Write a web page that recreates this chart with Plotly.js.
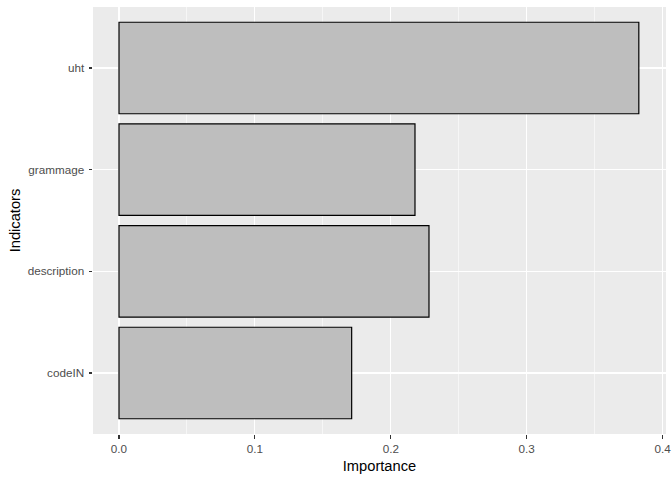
<!DOCTYPE html>
<html>
<head>
<meta charset="utf-8">
<script src="https://cdn.plot.ly/plotly-3.0.1.min.js"></script>
<style>html,body{margin:0;padding:0;background:#fff;}#chart{width:672px;height:480px;}</style>
</head>
<body>
<div id="chart"></div>
<script>
const indicators = ["codeIN", "description", "grammage", "uht"];
const importance = [0.1712, 0.2281, 0.2178, 0.3825];
const xTicks = [0, 0.1, 0.2, 0.3, 0.4];

const maxV = Math.max(...importance);
const pad = maxV * 0.05;

const trace = {
  type: 'bar',
  orientation: 'h',
  x: importance,
  y: indicators,
  width: 0.9,
  marker: {color: '#BEBEBE', line: {color: '#000000', width: 1.2}},
  hoverinfo: 'x+y'
};

const layout = {
  width: 672, height: 480,
  margin: {l: 93, r: 6, t: 7, b: 46},
  paper_bgcolor: '#FFFFFF',
  plot_bgcolor: '#EBEBEB',
  showlegend: false,
  font: {family: 'Liberation Sans, Arial, sans-serif', color: '#4D4D4D', size: 11.7},
  xaxis: {
    range: [-pad, 0.4025],
    tickvals: xTicks,
    ticktext: xTicks.map(v => v.toFixed(1)),
    ticklabeloverflow: 'allow',
    ticks: 'outside', ticklen: 3.5, tickwidth: 1.07, tickcolor: '#333333',
    showgrid: true, gridcolor: '#FFFFFF', gridwidth: 1.07,
    minor: {dtick: 0.05, tick0: 0, showgrid: true, gridcolor: '#FFFFFF', gridwidth: 0.55, ticklen: 0},
    zeroline: false, showline: false,
    tickfont: {size: 11.7, color: '#4D4D4D'},
    title: {text: 'Importance', font: {size: 14.7, color: '#000000'}, standoff: 7}
  },
  yaxis: {
    type: 'category',
    categoryorder: 'array', categoryarray: indicators,
    range: [-0.6, 3.6],
    ticks: 'outside', ticklen: 3.5, tickwidth: 1.07, tickcolor: '#333333',
    showgrid: true, gridcolor: '#FFFFFF', gridwidth: 1.07,
    zeroline: false, showline: false,
    tickfont: {size: 11.7, color: '#4D4D4D'},
    ticklabelstandoff: 2,
    title: {text: 'Indicators', font: {size: 14.7, color: '#000000'}, standoff: 3}
  },
  bargap: 0.1
};

Plotly.newPlot('chart', [trace], layout, {displayModeBar: false, staticPlot: true});
</script>
</body>
</html>
